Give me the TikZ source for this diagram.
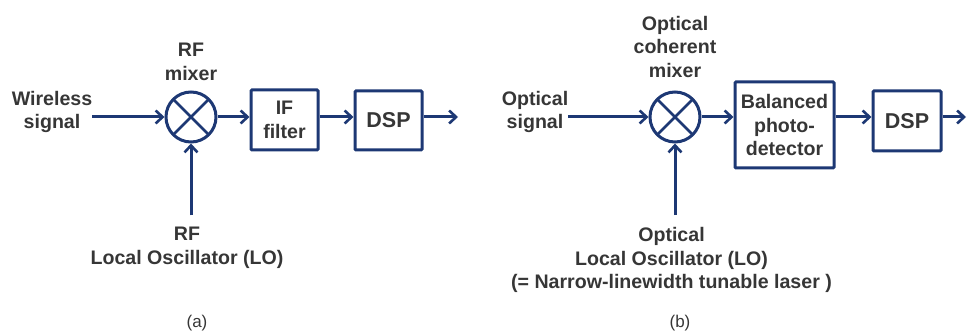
\documentclass[tikz,border=0pt]{standalone}
\usepackage{fontspec}
\setmainfont{Liberation Sans}
\usetikzlibrary{arrows.meta}
\definecolor{navy}{HTML}{1D3874}
\definecolor{txtgray}{HTML}{363636}

\begin{document}
\begin{tikzpicture}[x=1pt,y=-1pt,>={Straight Barb[length=7pt,width=13pt,line width=2.6pt]},
  lbl/.style={font=\bfseries\fontsize{19.6}{23.5}\selectfont,text=txtgray,align=center,inner sep=0pt},
  subcap/.style={font=\fontsize{17}{20}\selectfont,text=txtgray,inner sep=0pt},
  mixer/.style={circle,draw=navy,line width=3pt,minimum size=50pt,inner sep=0pt,
    path picture={\draw[navy,line width=2.6pt]
      (path picture bounding box.north west) -- (path picture bounding box.south east)
      (path picture bounding box.north east) -- (path picture bounding box.south west);}},
  blk/.style={draw=navy,line width=3pt,rounded corners=1pt,inner sep=0pt,
    font=\bfseries\fontsize{19.6}{23.5}\selectfont,text=txtgray,align=center},
  flow/.style={->,draw=navy,line width=3pt}]
  \useasboundingbox (0,0) rectangle (967,334);

  % (a) RF receiver
  \node[lbl] (wsig) at (52,112) {Wireless\\signal};
  \node[mixer] (mixa) at (191,117) {};
  \node[lbl] (mixlbla) at (191,62) {RF\\mixer};
  \node[blk,minimum width=67pt,minimum height=60pt] (ifa) at (284.5,120) {IF\\filter};
  \node[blk,minimum width=67pt,minimum height=59pt] (dspa) at (388.5,120.5) {\fontsize{21.5}{24}\selectfont DSP};
  \coordinate (outa) at (458,117);
  \node[lbl] (loa) at (187,248) {RF\\Local Oscillator (LO)};
  \node[subcap] (capa) at (197,323) {(a)};

  \draw[flow] (wsig.east |- mixa) -- (mixa.west);
  \draw[flow] (mixa.east) -- (ifa.west |- mixa);
  \draw[flow] (ifa.east |- mixa) -- (dspa.west |- mixa);
  \draw[flow] (dspa.east |- mixa) -- (outa);
  \draw[flow] ([yshift=12pt]loa.north -| mixa.south) -- (mixa.south);

  % (b) optical coherent receiver
  \node[lbl] (osig) at (535,112) {Optical\\signal};
  \node[mixer] (mixb) at (675,117) {};
  \node[lbl] (mixlblb) at (675,46.5) {Optical\\coherent\\mixer};
  \node[blk,minimum width=99pt,minimum height=86pt] (bpd) at (784.5,125) {Balanced\\photo-\\detector};
  \node[blk,minimum width=68pt,minimum height=60pt] (dspb) at (907,121) {\fontsize{21.5}{24}\selectfont DSP};
  \coordinate (outb) at (966,117);
  \node[lbl] (lob) at (671.5,260) {Optical\\Local Oscillator (LO)\\(= Narrow-linewidth tunable laser )};
  \node[subcap] (capb) at (680,323) {(b)};

  \draw[flow] (osig.east |- mixb) -- (mixb.west);
  \draw[flow] (mixb.east) -- (bpd.west |- mixb);
  \draw[flow] (bpd.east |- mixb) -- (dspb.west |- mixb);
  \draw[flow] (dspb.east |- mixb) -- (outb);
  \draw[flow] ([yshift=12pt]lob.north -| mixb.south) -- (mixb.south);
\end{tikzpicture}
\end{document}
